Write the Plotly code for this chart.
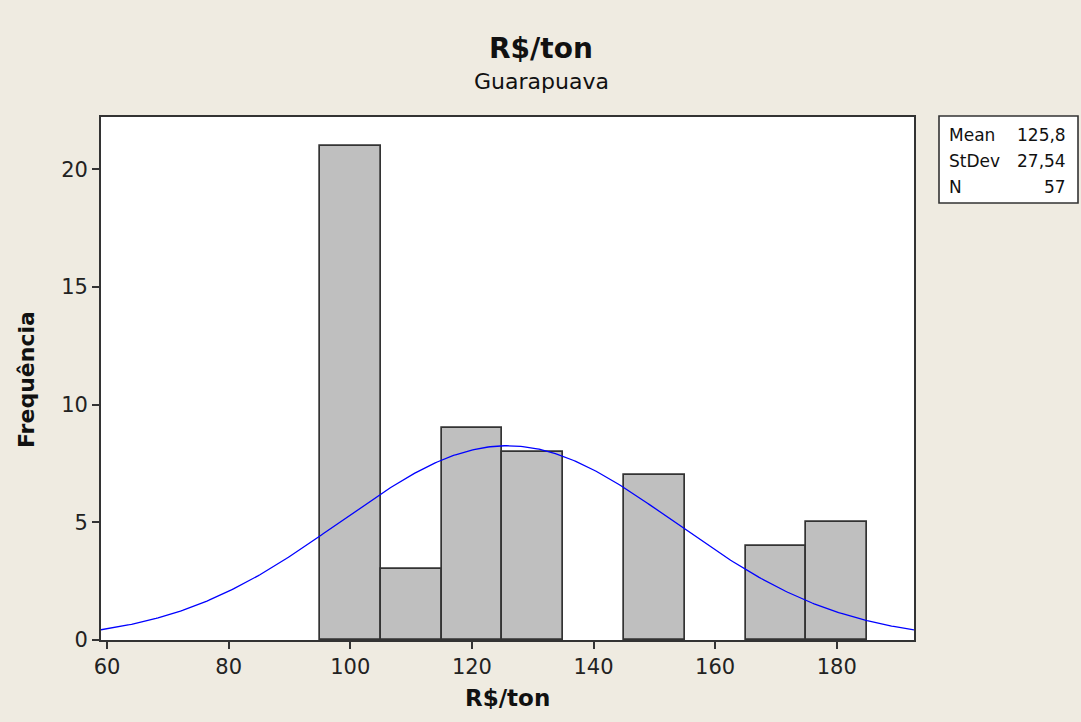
import numpy as np
import plotly.graph_objects as go

# ---- data ----
bin_centers = [100, 110, 120, 130, 140, 150, 160, 170, 180]
bin_counts = [21, 3, 9, 8, 0, 7, 0, 4, 5]
bin_width = 10
mean_val = 125.8
stdev_val = 27.54
n_val = 57
x_ticks = [60, 80, 100, 120, 140, 160, 180]
y_ticks = [0, 5, 10, 15, 20]
stat_labels = ["Mean", "StDev", "N"]
stat_values = ["125,8", "27,54", "57"]

# ---- layout geometry (pixels) ----
W, H = 1081, 722
L, R, T, B = 101, 914, 117, 640
X_RANGE = [59.0, 192.7]
Y_RANGE = [0, 22.23]

def px(x):
    return (x - L) / (R - L)

def py(y):
    return (B - y) / (B - T)

BG = "#EFEBE1"
FONT = "DejaVu Sans"
DARK = "#222222"

# normal fit curve from displayed statistics
xc = np.linspace(X_RANGE[0], X_RANGE[1], 400)
yc = n_val * bin_width * np.exp(-0.5 * ((xc - mean_val) / stdev_val) ** 2) / (stdev_val * np.sqrt(2 * np.pi))

# empty bins are not drawn as bars
draw_x = [c for c, n in zip(bin_centers, bin_counts) if n > 0]
draw_y = [n for n in bin_counts if n > 0]

fig = go.Figure()
fig.add_trace(go.Bar(
    x=draw_x, y=draw_y, width=bin_width,
    marker=dict(color="#BFBFBF", line=dict(color="#333333", width=1.7)),
    hoverinfo="x+y", showlegend=False,
))
fig.add_trace(go.Scatter(
    x=xc, y=yc, mode="lines",
    line=dict(color="#0000FF", width=1.3), showlegend=False, hoverinfo="skip",
))

axis_common = dict(
    showline=True, linecolor="#333333", linewidth=1.7, mirror=True,
    ticks="outside", ticklen=7, tickwidth=1.5, tickcolor="#333333",
    showgrid=False, zeroline=False,
    tickfont=dict(family=FONT, size=21, color=DARK),
)

fig.update_layout(
    width=W, height=H,
    margin=dict(l=L, r=W - R, t=T, b=H - B, pad=0),
    paper_bgcolor=BG, plot_bgcolor="white",
    bargap=0,
    xaxis=dict(range=X_RANGE, tickvals=x_ticks, **axis_common),
    yaxis=dict(range=Y_RANGE, tickvals=y_ticks, **axis_common),
    font=dict(family=FONT, color=DARK),
)

annotations = [
    dict(text="<b>R$/ton</b>", x=px(541), y=py(48), font=dict(size=28, family=FONT, color="#111111")),
    dict(text="Guarapuava", x=px(541), y=py(82), font=dict(size=22, family=FONT, color="#111111")),
    dict(text="<b>R$/ton</b>", x=px(507), y=py(698), font=dict(size=23, family=FONT, color="#111111")),
    dict(text="<b>Frequência</b>", x=px(26), y=py(380), textangle=-90, font=dict(size=22, family=FONT, color="#111111")),
]
row_y = [135, 161, 187]
for lab, val, yy in zip(stat_labels, stat_values, row_y):
    annotations.append(dict(text=lab, x=px(947), y=py(yy), xanchor="left",
                            font=dict(size=17, family=FONT, color="#111111")))
    annotations.append(dict(text=val, x=px(1068), y=py(yy), xanchor="right",
                            font=dict(size=17, family=FONT, color="#111111")))
for a in annotations:
    a.setdefault("xanchor", "center")
    a.update(xref="paper", yref="paper", yanchor="middle", showarrow=False)
fig.update_layout(annotations=annotations)

fig.add_shape(type="rect", xref="paper", yref="paper",
              x0=px(939), x1=px(1078), y0=py(203), y1=py(116),
              line=dict(color="#333333", width=1.6), fillcolor="white", layer="below")

fig.write_html("out.html")
